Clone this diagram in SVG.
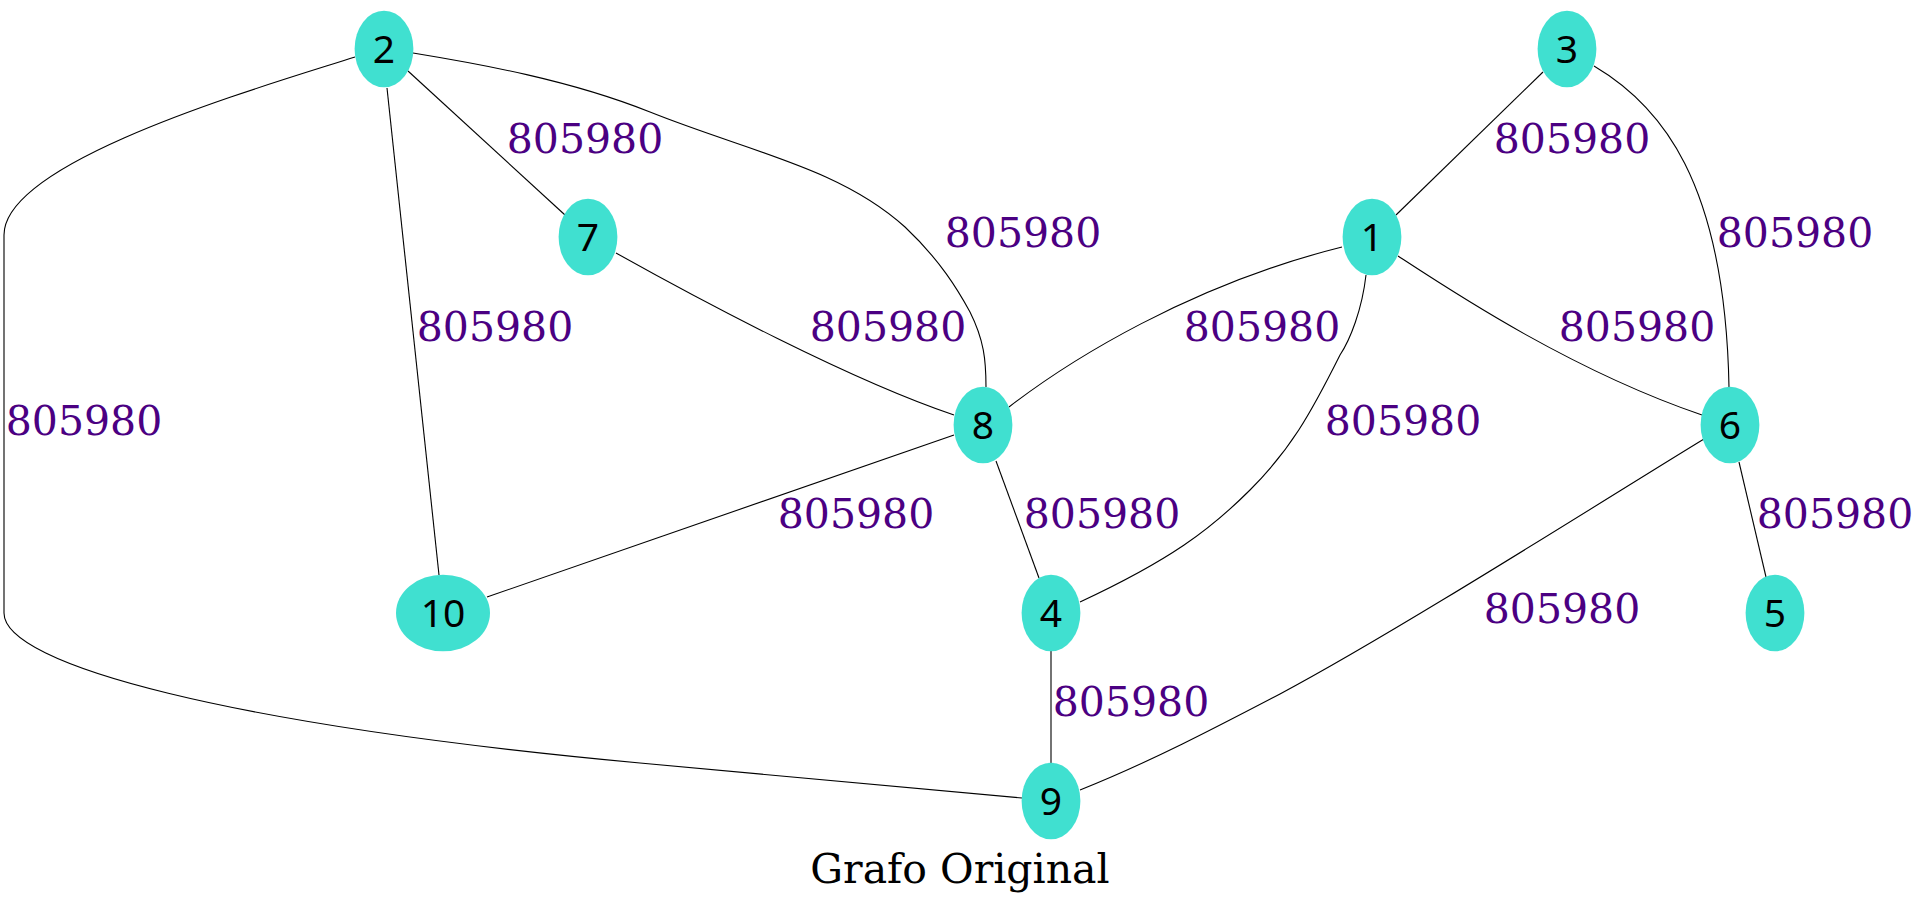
<svg xmlns="http://www.w3.org/2000/svg" width="1920" height="904" viewBox="0 0 1920 904">
<style>
.node ellipse{fill:#40e0d0;stroke:none}
.node text{font-family:"Noto Sans","Open Sans",sans-serif;font-size:39px;fill:#000;text-anchor:middle}
.edges path{fill:none;stroke:#000;stroke-width:1.1}
.lbl{font-family:"DejaVu Serif",serif;font-size:41px;fill:#4b0082;text-anchor:middle}
.title{font-family:"DejaVu Serif",serif;font-size:41px;fill:#000;text-anchor:middle}
</style>
<rect width="1920" height="904" fill="#fff"/>
<g id="edges" class="edges">
<path id="e2-9" d="M355,57 C265,86 4,160 4,235 L4,613 C4,665 230,725 640,763 L1022,798"/>
<path id="e2-7" d="M408,71 L565,215"/>
<path id="e2-10" d="M387,88 L439,575"/>
<path id="e2-8" d="M413,53 C480,64 570,80 650,112 C750,152 840,168 905,227 C940,260 958,290 970,312 C984,340 986,360 986,387"/>
<path id="e7-8" d="M616,253 C700,300 850,380 954,415"/>
<path id="e8-10" d="M954,435 L487,597"/>
<path id="e8-4" d="M996,461 L1039,578"/>
<path id="e8-1" d="M1009,407 C1070,360 1190,285 1342,247"/>
<path id="e1-4" d="M1366,275 C1362,310 1350,340 1340,355 C1310,415 1290,450 1250,490 C1210,530 1170,560 1080,602"/>
<path id="e3-1" d="M1543,72 L1396,215"/>
<path id="e3-6" d="M1594,66 C1660,105 1725,180 1729,387"/>
<path id="e1-6" d="M1398,256 C1450,290 1570,370 1702,415"/>
<path id="e6-5" d="M1739,462 L1766,577"/>
<path id="e6-9" d="M1704,439 C1620,490 1400,630 1280,694 C1215,728 1150,762 1080,790"/>
<path id="e4-9" d="M1051,651 L1051,763"/>
</g>
<g id="edge-labels">
<text class="lbl" x="585" y="153">805980</text>
<text class="lbl" x="495" y="341">805980</text>
<text class="lbl" x="84" y="435">805980</text>
<text class="lbl" x="1023" y="247">805980</text>
<text class="lbl" x="888" y="341">805980</text>
<text class="lbl" x="1262" y="341">805980</text>
<text class="lbl" x="1572" y="153">805980</text>
<text class="lbl" x="1795" y="247">805980</text>
<text class="lbl" x="1637" y="341">805980</text>
<text class="lbl" x="1403" y="435">805980</text>
<text class="lbl" x="856" y="528">805980</text>
<text class="lbl" x="1102" y="528">805980</text>
<text class="lbl" x="1131" y="716">805980</text>
<text class="lbl" x="1835" y="528">805980</text>
<text class="lbl" x="1562" y="623">805980</text>
</g>
<g id="node2" class="node"><ellipse cx="384" cy="49" rx="29.4" ry="38.3"/><text x="384" y="63">2</text></g>
<g id="node3" class="node"><ellipse cx="1567" cy="49" rx="29.4" ry="38.3"/><text x="1567" y="63">3</text></g>
<g id="node7" class="node"><ellipse cx="588" cy="237" rx="29.4" ry="38.3"/><text x="588" y="251">7</text></g>
<g id="node1" class="node"><ellipse cx="1372" cy="237" rx="29.4" ry="38.3"/><text x="1372" y="251">1</text></g>
<g id="node8" class="node"><ellipse cx="983" cy="425" rx="29.4" ry="38.3"/><text x="983" y="439">8</text></g>
<g id="node6" class="node"><ellipse cx="1730" cy="425" rx="29.4" ry="38.3"/><text x="1730" y="439">6</text></g>
<g id="node10" class="node"><ellipse cx="443" cy="613" rx="47" ry="38.3"/><text x="443" y="627">10</text></g>
<g id="node4" class="node"><ellipse cx="1051" cy="613" rx="29.4" ry="38.3"/><text x="1051" y="627">4</text></g>
<g id="node5" class="node"><ellipse cx="1775" cy="613" rx="29.4" ry="38.3"/><text x="1775" y="627">5</text></g>
<g id="node9" class="node"><ellipse cx="1051" cy="801" rx="29.4" ry="38.3"/><text x="1051" y="815">9</text></g>
<text class="title" x="960" y="883">Grafo Original</text>
</svg>
